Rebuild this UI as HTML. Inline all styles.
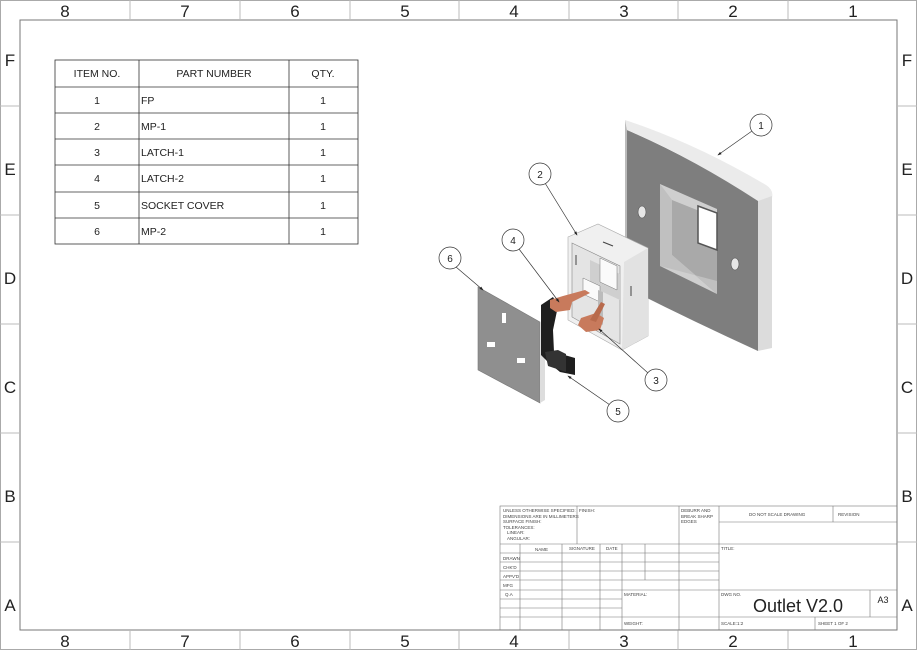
<!DOCTYPE html>
<html><head><style>
body{margin:0;background:#fff}
svg{display:block;font-family:"Liberation Sans",sans-serif}
</style></head><body>
<svg width="917" height="650" viewBox="0 0 917 650" xmlns="http://www.w3.org/2000/svg">
<defs><marker id="ar" markerWidth="6" markerHeight="6" refX="5" refY="3" orient="auto"><path d="M0 1 L6 3 L0 5 Z" fill="#222"/></marker></defs>
<rect x="0.5" y="0.5" width="916" height="649" fill="#fff" stroke="#aaa"/>
<rect x="20" y="20" width="877" height="610" fill="none" stroke="#777"/>
<g stroke="#bbb">
<line x1="130" y1="0" x2="130" y2="20"/><line x1="240" y1="0" x2="240" y2="20"/><line x1="350" y1="0" x2="350" y2="20"/><line x1="459" y1="0" x2="459" y2="20"/><line x1="569" y1="0" x2="569" y2="20"/><line x1="678" y1="0" x2="678" y2="20"/><line x1="788" y1="0" x2="788" y2="20"/>
<line x1="130" y1="630" x2="130" y2="650"/><line x1="240" y1="630" x2="240" y2="650"/><line x1="350" y1="630" x2="350" y2="650"/><line x1="459" y1="630" x2="459" y2="650"/><line x1="569" y1="630" x2="569" y2="650"/><line x1="678" y1="630" x2="678" y2="650"/><line x1="788" y1="630" x2="788" y2="650"/>
<line x1="0" y1="106" x2="20" y2="106"/><line x1="0" y1="215" x2="20" y2="215"/><line x1="0" y1="324" x2="20" y2="324"/><line x1="0" y1="433" x2="20" y2="433"/><line x1="0" y1="542" x2="20" y2="542"/>
<line x1="897" y1="106" x2="917" y2="106"/><line x1="897" y1="215" x2="917" y2="215"/><line x1="897" y1="324" x2="917" y2="324"/><line x1="897" y1="433" x2="917" y2="433"/><line x1="897" y1="542" x2="917" y2="542"/>
</g>
<g font-size="17" fill="#222" text-anchor="middle">
<text x="65" y="17">8</text><text x="185" y="17">7</text><text x="295" y="17">6</text><text x="405" y="17">5</text><text x="514" y="17">4</text><text x="624" y="17">3</text><text x="733" y="17">2</text><text x="853" y="17">1</text>
<text x="65" y="647">8</text><text x="185" y="647">7</text><text x="295" y="647">6</text><text x="405" y="647">5</text><text x="514" y="647">4</text><text x="624" y="647">3</text><text x="733" y="647">2</text><text x="853" y="647">1</text>
<text x="10" y="66">F</text><text x="10" y="175">E</text><text x="10" y="284">D</text><text x="10" y="393">C</text><text x="10" y="502">B</text><text x="10" y="611">A</text>
<text x="907" y="66">F</text><text x="907" y="175">E</text><text x="907" y="284">D</text><text x="907" y="393">C</text><text x="907" y="502">B</text><text x="907" y="611">A</text>
</g>
<!-- BOM -->
<g stroke="#333" stroke-width="0.8" fill="none">
<rect x="55" y="60" width="303" height="184"/>
<line x1="139" y1="60" x2="139" y2="244"/><line x1="289" y1="60" x2="289" y2="244"/>
<line x1="55" y1="87" x2="358" y2="87"/><line x1="55" y1="113" x2="358" y2="113"/><line x1="55" y1="139" x2="358" y2="139"/><line x1="55" y1="165" x2="358" y2="165"/><line x1="55" y1="192" x2="358" y2="192"/><line x1="55" y1="218" x2="358" y2="218"/>
</g>
<g font-size="10.5" fill="#222">
<g text-anchor="middle"><text x="97" y="77">ITEM NO.</text><text x="214" y="77">PART NUMBER</text><text x="323" y="77">QTY.</text>
<text x="97" y="104">1</text><text x="97" y="130">2</text><text x="97" y="156">3</text><text x="97" y="182">4</text><text x="97" y="209">5</text><text x="97" y="235">6</text>
<text x="323" y="104">1</text><text x="323" y="130">1</text><text x="323" y="156">1</text><text x="323" y="182">1</text><text x="323" y="209">1</text><text x="323" y="235">1</text></g>
<text x="141" y="104">FP</text><text x="141" y="130">MP-1</text><text x="141" y="156">LATCH-1</text><text x="141" y="182">LATCH-2</text><text x="141" y="209">SOCKET COVER</text><text x="141" y="235">MP-2</text>
</g>
<!-- Part 1 faceplate -->
<path d="M627 130 Q692 158 758 200 L758 351 Q690 320 627 288 Z" fill="#7e7e7e"/>
<path d="M625 120 Q695 143 766 185 Q774 190 772 198 L758 201 Q692 158 627 130 Z" fill="#ebebeb"/>
<path d="M758 201 L772 196 L772 348 L758 351 Z" fill="#dcdcdc"/>
<path d="M625 120 L627 130 L627 288 L625 285 Z" fill="#bbb"/>
<path d="M660 184 L717 209 L717 294 L660 266 Z" fill="#cfcfcf"/>
<path d="M672 200 L717 218 L717 294 L672 255 Z" fill="#a9a9a9"/>
<path d="M660 184 L672 200 L672 255 L717 294 L717 281 L660 266 Z" fill="#c0c0c0"/>
<path d="M698 206 L717 213 L717 250 L698 243 Z" fill="#fff" stroke="#555" stroke-width="1.5"/>
<ellipse cx="642" cy="212" rx="4" ry="6" fill="#e6e6e6" stroke="#555" stroke-width="0.6"/>
<ellipse cx="735" cy="264" rx="4" ry="6" fill="#e6e6e6" stroke="#555" stroke-width="0.6"/>
<!-- Part 2 box -->
<path d="M568 237 L598 224 L648 248 L648 336 L622 350 L568 320 Z" fill="#f0f0f0" stroke="#aaa" stroke-width="0.6"/>
<path d="M624 262 L648 248 L648 336 L622 350 Z" fill="#e2e2e2"/>
<path d="M572 243 L620 266 L620 344 L572 317 Z" fill="#e4e4e4" stroke="#888" stroke-width="0.6"/>
<path d="M590 260 L620 274 L620 300 L590 286 Z" fill="#cfcfcf"/>
<path d="M600 258 L617 266 L617 290 L600 282 Z M583 278 L600 286 L600 302 L583 294 Z" fill="#fafafa" stroke="#777" stroke-width="0.5"/>
<path d="M598 290 L603 292 L603 325 L598 322 Z" fill="#bbb"/>
<line x1="603" y1="242" x2="613" y2="246" stroke="#444" stroke-width="1.2"/>
<line x1="576" y1="255" x2="576" y2="265" stroke="#444"/><line x1="631" y1="286" x2="631" y2="296" stroke="#444"/>
<!-- Part 6 -->
<path d="M478 287 L540 322 L540 403 L478 370 Z" fill="#8f8f8f" stroke="#777" stroke-width="0.6"/>
<path d="M540 322 L545 326 L545 400 L540 403 Z" fill="#ddd"/>
<rect x="502" y="313" width="4" height="10" fill="#fff"/>
<rect x="487" y="342" width="8" height="5" fill="#fff"/>
<rect x="517" y="358" width="8" height="5" fill="#fff"/>
<!-- Part 5 -->
<path d="M541 305 L553 297 L558 306 L553 330 L554 352 L575 358 L575 375 L560 372 L548 362 L541 355 Z" fill="#1e1e1e"/>
<path d="M545 352 L558 350 L566 354 L566 372 L548 366 Z" fill="#333"/>
<!-- latches -->
<path d="M550 300 L563 296 L585 290 L590 293 L572 302 L570 310 L556 312 L550 308 Z" fill="#c87a5c"/>
<path d="M581 318 L596 313 L604 318 L600 330 L586 332 L578 325 Z" fill="#c87a5c"/>
<path d="M590 320 L601 302 L605 304 L596 322 Z" fill="#b86a4c"/>
<!-- balloons & leaders -->
<g stroke="#333" stroke-width="0.7" fill="#fff">
<line x1="752" y1="131" x2="718" y2="155" marker-end="url(#ar)"/><circle cx="761" cy="125" r="11"/>
<line x1="545" y1="183" x2="577" y2="235" marker-end="url(#ar)"/><circle cx="540" cy="174" r="11"/>
<line x1="519" y1="249" x2="559" y2="302" marker-end="url(#ar)"/><circle cx="513" cy="240" r="11"/>
<line x1="456" y1="267" x2="483" y2="290" marker-end="url(#ar)"/><circle cx="450" cy="258" r="11"/>
<line x1="648" y1="373" x2="599" y2="329" marker-end="url(#ar)"/><circle cx="656" cy="380" r="11"/>
<line x1="610" y1="405" x2="568" y2="376" marker-end="url(#ar)"/><circle cx="618" cy="411" r="11"/>
</g>
<g font-size="10" fill="#222" text-anchor="middle">
<text x="761" y="129">1</text><text x="540" y="178">2</text><text x="513" y="244">4</text><text x="450" y="262">6</text><text x="656" y="384">3</text><text x="618" y="415">5</text>
</g>
<!-- title block -->
<g stroke="#777" stroke-width="0.6" fill="none">
<rect x="500" y="506" width="397" height="124"/>
<line x1="577" y1="506" x2="577" y2="544"/><line x1="679" y1="506" x2="679" y2="630"/><line x1="719" y1="506" x2="719" y2="630"/>
<line x1="719" y1="522" x2="897" y2="522"/><line x1="833" y1="506" x2="833" y2="522"/>
<line x1="500" y1="544" x2="897" y2="544"/>
<line x1="500" y1="553" x2="719" y2="553"/><line x1="500" y1="562" x2="719" y2="562"/><line x1="500" y1="571" x2="719" y2="571"/><line x1="500" y1="580" x2="719" y2="580"/>
<line x1="500" y1="590" x2="897" y2="590"/><line x1="500" y1="599" x2="622" y2="599"/><line x1="500" y1="608" x2="622" y2="608"/><line x1="500" y1="617" x2="897" y2="617"/>
<line x1="520" y1="544" x2="520" y2="630"/><line x1="562" y1="544" x2="562" y2="630"/><line x1="600" y1="544" x2="600" y2="630"/><line x1="622" y1="544" x2="622" y2="630"/><line x1="645" y1="544" x2="645" y2="580"/>
<line x1="870" y1="590" x2="870" y2="617"/><line x1="815" y1="617" x2="815" y2="630"/>
</g>
<g font-size="4.5" fill="#444">
<text x="503" y="512">UNLESS OTHERWISE SPECIFIED:</text><text x="503" y="518">DIMENSIONS ARE IN MILLIMETERS</text><text x="503" y="523">SURFACE FINISH:</text><text x="503" y="529">TOLERANCES:</text><text x="507" y="534">LINEAR:</text><text x="507" y="540">ANGULAR:</text>
<text x="579" y="512">FINISH:</text><text x="681" y="512">DEBURR AND</text><text x="681" y="518">BREAK SHARP</text><text x="681" y="523">EDGES</text>
<text x="749" y="516">DO NOT SCALE DRAWING</text><text x="838" y="516">REVISION</text>
<text x="535" y="551">NAME</text><text x="569" y="550">SIGNATURE</text><text x="606" y="550">DATE</text><text x="721" y="550">TITLE:</text>
<text x="503" y="560">DRAWN</text><text x="503" y="569">CHK'D</text><text x="503" y="578">APPV'D</text><text x="503" y="587">MFG</text><text x="505" y="596">Q.A</text>
<text x="624" y="596">MATERIAL:</text><text x="721" y="596">DWG NO.</text><text x="624" y="625">WEIGHT:</text><text x="721" y="625">SCALE:1:2</text><text x="818" y="625">SHEET 1 OF 2</text>
</g>
<text x="798" y="612" font-size="18" fill="#222" text-anchor="middle">Outlet V2.0</text>
<text x="883" y="603" font-size="9" fill="#222" text-anchor="middle">A3</text>
</svg>
</body></html>
